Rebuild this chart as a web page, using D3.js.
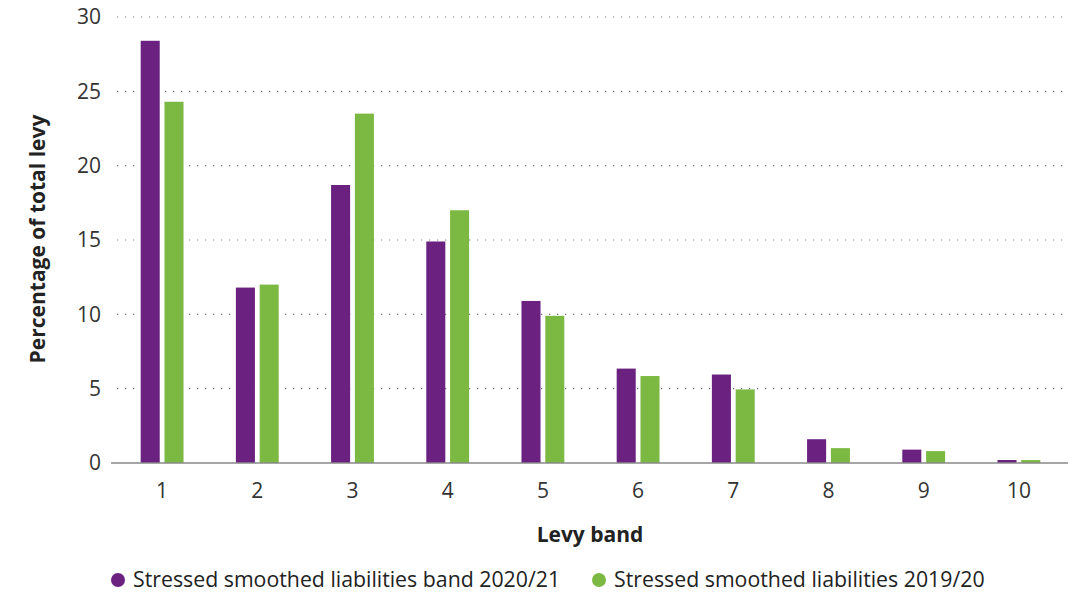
<!DOCTYPE html>
<html>
<head>
<meta charset="utf-8">
<script src="https://cdn.jsdelivr.net/npm/d3@7"></script>
<style>
  html, body { margin: 0; padding: 0; background: #fff; }
  svg { display: block; font-family: "Open Sans", "Noto Sans", sans-serif; }
</style>
</head>
<body>
<svg id="chart" width="1083" height="596"></svg>
<script>
// Levy bands and the share of total levy for each year
const bands = ["1", "2", "3", "4", "5", "6", "7", "8", "9", "10"];
const seriesNames = [
  "Stressed smoothed liabilities band 2020/21",
  "Stressed smoothed liabilities 2019/20"
];
const values2021 = [28.4, 11.8, 18.7, 14.9, 10.9, 6.35, 5.95, 1.6, 0.9, 0.2];
const values2020 = [24.3, 12.0, 23.5, 17.0, 9.9, 5.85, 4.95, 1.0, 0.8, 0.2];
const yTicks = [0, 5, 10, 15, 20, 25, 30];
const colors = ["#6a2180", "#7cb943"];

const svg = d3.select("#chart");
const margin = { left: 114.5, right: 1066.5, top: 17, bottom: 463 };
const fontSize = 21;

const x0 = d3.scaleBand()
  .domain(bands)
  .range([margin.left, margin.right])
  .paddingInner(0.55)
  .paddingOuter(0.275);

const x1 = d3.scaleBand()
  .domain(d3.range(seriesNames.length))
  .range([0, x0.bandwidth()])
  .paddingInner(0.2);

const y = d3.scaleLinear()
  .domain([0, 30])
  .range([margin.bottom, margin.top]);

// dotted gridlines
svg.append("g")
  .selectAll("line")
  .data(yTicks.filter(d => d > 0))
  .join("line")
  .attr("x1", 117)
  .attr("x2", 1068)
  .attr("y1", d => y(d))
  .attr("y2", d => y(d))
  .attr("stroke", "#7a7a7a")
  .attr("stroke-width", 1.2)
  .attr("stroke-dasharray", "1.2 6.8");

// y tick labels
svg.append("g")
  .selectAll("text")
  .data(yTicks)
  .join("text")
  .attr("x", 101)
  .attr("y", d => y(d))
  .attr("dy", "0.35em")
  .attr("text-anchor", "end")
  .attr("font-size", fontSize)
  .attr("fill", "#333")
  .text(d => d);

// bars
const rows = bands.map((b, i) => ({ band: b, vals: [values2021[i], values2020[i]] }));
const groups = svg.append("g")
  .selectAll("g")
  .data(rows)
  .join("g")
  .attr("transform", d => `translate(${x0(d.band)},0)`);

groups.selectAll("rect")
  .data(d => d.vals.map((v, k) => ({ v, k })))
  .join("rect")
  .attr("x", d => x1(d.k))
  .attr("width", x1.bandwidth())
  .attr("y", d => y(d.v))
  .attr("height", d => y(0) - y(d.v))
  .attr("fill", d => colors[d.k]);

// baseline
svg.append("line")
  .attr("x1", 111)
  .attr("x2", 1068)
  .attr("y1", y(0))
  .attr("y2", y(0))
  .attr("stroke", "#888")
  .attr("stroke-width", 1.5);

// x tick labels
svg.append("g")
  .selectAll("text")
  .data(bands)
  .join("text")
  .attr("x", d => x0(d) + x0.bandwidth() / 2)
  .attr("y", 498)
  .attr("text-anchor", "middle")
  .attr("font-size", fontSize)
  .attr("fill", "#333")
  .text(d => d);

// axis titles
svg.append("text")
  .attr("x", 590)
  .attr("y", 542)
  .attr("text-anchor", "middle")
  .attr("font-size", fontSize)
  .attr("font-weight", "bold")
  .attr("fill", "#222")
  .text("Levy band");

svg.append("text")
  .attr("transform", "translate(45,239) rotate(-90)")
  .attr("text-anchor", "middle")
  .attr("font-size", fontSize)
  .attr("font-weight", "bold")
  .attr("fill", "#222")
  .text("Percentage of total levy");

// legend
const legendX = [118, 599];
const legend = svg.append("g")
  .selectAll("g")
  .data(seriesNames)
  .join("g")
  .attr("transform", (d, i) => `translate(${legendX[i]},580)`);

legend.append("circle")
  .attr("r", 7)
  .attr("fill", (d, i) => colors[i]);

legend.append("text")
  .attr("x", 15)
  .attr("dy", "0.35em")
  .attr("font-size", 21.3)
  .attr("fill", "#222")
  .text(d => d);
</script>
</body>
</html>
